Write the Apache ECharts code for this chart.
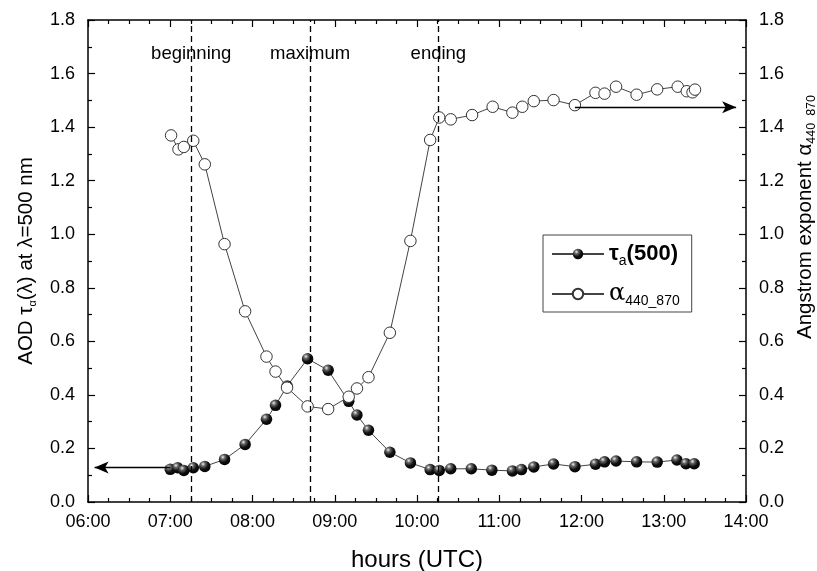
<!DOCTYPE html>
<html><head><meta charset="utf-8">
<script src="https://cdn.jsdelivr.net/npm/echarts@6/dist/echarts.min.js"></script>
<style>html,body{margin:0;padding:0;background:#fff}#c{width:817px;height:571px}</style>
</head><body><div id="c"></div>
<script>
const tauTimes = [7.00,7.09,7.165,7.28,7.42,7.66,7.91,8.17,8.28,8.42,8.67,8.92,9.17,9.27,9.41,9.67,9.92,10.16,10.27,10.41,10.66,10.91,11.16,11.27,11.42,11.66,11.92,12.17,12.28,12.42,12.67,12.92,13.16,13.27,13.37];
const tauValues = [0.122,0.128,0.118,0.128,0.133,0.159,0.215,0.309,0.361,0.433,0.535,0.492,0.376,0.325,0.268,0.186,0.146,0.121,0.118,0.124,0.124,0.119,0.116,0.121,0.131,0.142,0.132,0.141,0.150,0.153,0.150,0.149,0.157,0.143,0.143];
const alphaTimes = [7.01,7.10,7.165,7.28,7.42,7.66,7.91,8.17,8.28,8.42,8.67,8.92,9.17,9.27,9.41,9.67,9.92,10.16,10.27,10.41,10.67,10.92,11.16,11.28,11.42,11.66,11.92,12.17,12.28,12.42,12.67,12.92,13.17,13.28,13.35,13.38];
const alphaValues = [1.369,1.317,1.326,1.349,1.261,0.963,0.712,0.543,0.487,0.427,0.357,0.347,0.393,0.424,0.466,0.632,0.975,1.352,1.436,1.429,1.445,1.476,1.454,1.476,1.497,1.501,1.482,1.528,1.525,1.551,1.521,1.541,1.551,1.534,1.530,1.540];
const eventTimes = [7.255, 8.70, 10.26];
const eventLabels = ['beginning', 'maximum', 'ending'];
const eventLabelY = 1.673;
const tauArrow = [[7.0, 0.129], [6.08, 0.129]];
const alphaArrow = [[11.92, 1.474], [13.88, 1.474]];

const chart = echarts.init(document.getElementById('c'), null, {renderer: 'canvas'});
const FF = '"Liberation Sans", Arial, sans-serif';
const ball = new echarts.graphic.RadialGradient(0.35, 0.3, 0.75, [
  {offset: 0, color: '#f0f0f0'}, {offset: 0.25, color: '#666'}, {offset: 0.6, color: '#111'}, {offset: 1, color: '#000'}]);
const xFmt = v => (v < 10 ? '0' : '') + v + ':00';
const baseX = {
  type: 'value', min: 6, max: 14, interval: 1,
  axisLine: {show: true, onZero: false, lineStyle: {color: '#000', width: 1.5}},
  axisTick: {show: true, inside: true, length: 7, lineStyle: {color: '#000', width: 1.2}},
  minorTick: {show: true, splitNumber: 4, length: 4, lineStyle: {color: '#000', width: 1.2}},
  splitLine: {show: false}
};
const baseY = {
  type: 'value', min: 0, max: 1.8, interval: 0.2,
  axisLine: {show: true, onZero: false, lineStyle: {color: '#000', width: 1.5}},
  axisTick: {show: true, inside: true, length: 7, lineStyle: {color: '#000', width: 1.2}},
  minorTick: {show: true, splitNumber: 2, length: 4, lineStyle: {color: '#000', width: 1.2}},
  splitLine: {show: false},
  axisLabel: {color: '#000', fontSize: 18, fontFamily: FF, margin: 13, formatter: v => v.toFixed(1)},
  nameLocation: 'middle', nameRotate: 90
};
const option = {
  animation: false,
  backgroundColor: '#fff',
  grid: {left: 88, right: 71, top: 20, bottom: 69, containLabel: false, outerBoundsMode: 'none'},
  legend: {
    left: 543, top: 235, orient: 'vertical',
    borderColor: '#444', borderWidth: 1,
    padding: [8, 12, 4, 8], itemGap: 14, itemWidth: 52, itemHeight: 13,
    data: ['tau', 'alpha'],
    formatter: n => n === 'tau' ? '{m|τ}{s|a}{m|(500)}' : '{g|α}{s|440_870}',
    textStyle: {color: '#000', fontFamily: FF, fontSize: 22,
      rich: {
        m: {fontSize: 22, fontFamily: FF, color: '#000', fontWeight: 'bold'},
        g: {fontSize: 24, fontFamily: '"DejaVu Serif", serif', color: '#000'},
        s: {fontSize: 14, fontFamily: FF, color: '#000', padding: [14, 0, 0, 0]}
      }}
  },
  xAxis: [
    Object.assign({}, baseX, {
      position: 'bottom',
      axisLabel: {color: '#000', fontSize: 18, fontFamily: FF, margin: 11, formatter: xFmt},
      name: 'hours (UTC)', nameLocation: 'middle', nameGap: 46,
      nameTextStyle: {color: '#000', fontSize: 24, fontFamily: FF}
    }),
    Object.assign({}, baseX, {position: 'top', axisLabel: {show: false}})
  ],
  yAxis: [
    Object.assign({}, baseY, {
      position: 'left',
      name: '{t|AOD τ}{s|α}{t|(λ) at λ=500 nm}', nameGap: 50,
      nameTextStyle: {color: '#000', fontSize: 20.5, fontFamily: FF,
        rich: {t: {fontSize: 20.5, fontFamily: FF, color: '#000'},
               s: {fontSize: 11, fontFamily: FF, color: '#000', padding: [12, 0, 0, 0]}}}
    }),
    Object.assign({}, baseY, {
      position: 'right',
      name: '{t|Angstrom exponent α}{s|440_870}', nameGap: 43,
      nameTextStyle: {color: '#000', fontSize: 20.5, fontFamily: FF, padding: [0, 0, 0, 88],
        rich: {t: {fontSize: 20.5, fontFamily: FF, color: '#000'},
               s: {fontSize: 12.5, fontFamily: FF, color: '#000', padding: [12, 0, 0, 0]}}}
    })
  ],
  series: [
    {
      name: 'tau', type: 'line', xAxisIndex: 0, yAxisIndex: 0, z: 3,
      data: tauTimes.map((t, i) => [t, tauValues[i]]),
      symbol: 'circle', symbolSize: 11.5,
      lineStyle: {color: '#444', width: 1},
      itemStyle: {color: ball, borderWidth: 0},
      markLine: {
        silent: true, animation: false,
        data: [
          ...eventTimes.map(t => [{coord: [t, 0], symbol: 'none'}, {coord: [t, 1.8], symbol: 'none'}]),
          [{coord: tauArrow[0], symbol: 'none', lineStyle: {type: 'solid', color: '#000', width: 1.3}},
           {coord: tauArrow[1], symbol: 'arrow', symbolSize: [9, 14]}]
        ],
        lineStyle: {color: '#000', width: 1.3, type: [6, 4]},
        label: {show: false}
      },
      markPoint: {
        silent: true, symbol: 'circle', symbolSize: 0,
        data: eventTimes.map((t, i) => ({coord: [t, eventLabelY], value: eventLabels[i]})),
        label: {show: true, formatter: p => p.value, color: '#000', fontSize: 18.5, fontFamily: FF, position: 'inside'}
      }
    },
    {
      name: 'alpha', type: 'line', xAxisIndex: 0, yAxisIndex: 1, z: 4,
      data: alphaTimes.map((t, i) => [t, alphaValues[i]]),
      symbol: 'circle', symbolSize: 11.5,
      lineStyle: {color: '#444', width: 1},
      itemStyle: {color: '#fff', borderColor: '#333', borderWidth: 1},
      markLine: {
        silent: true, animation: false,
        data: [[{coord: alphaArrow[0], symbol: 'none'}, {coord: alphaArrow[1], symbol: 'arrow', symbolSize: [9, 14]}]],
        lineStyle: {color: '#000', width: 1.3, type: 'solid'},
        label: {show: false}
      }
    }
  ]
};
chart.setOption(option);
</script></body></html>
